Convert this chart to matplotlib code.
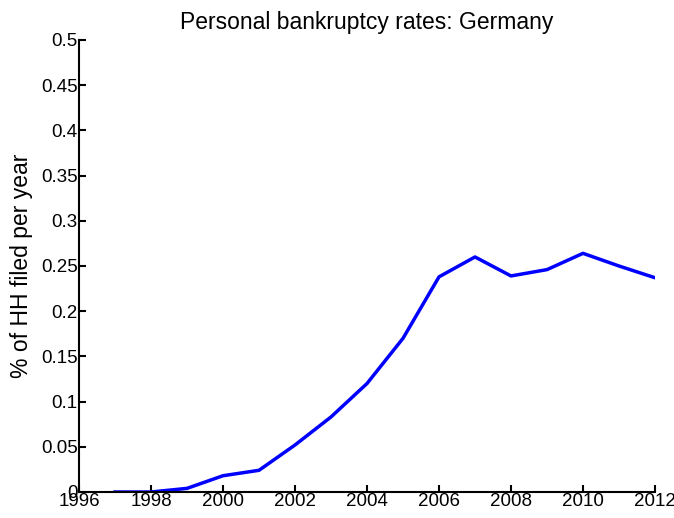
import matplotlib
matplotlib.use('Agg')
import matplotlib.pyplot as plt

plt.rcParams['font.family'] = ['Liberation Sans', 'DejaVu Sans']

years = [1997, 1998, 1999, 2000, 2001, 2002, 2003, 2004, 2005, 2006, 2007, 2008, 2009, 2010, 2011, 2012]
rates = [0.0, 0.0, 0.004, 0.018, 0.024, 0.052, 0.083, 0.12, 0.17, 0.238, 0.26, 0.239, 0.246, 0.264, 0.25, 0.237]
yticks = [0, 0.05, 0.1, 0.15, 0.2, 0.25, 0.3, 0.35, 0.4, 0.45, 0.5]
ylabels = ['0', '0.05', '0.1', '0.15', '0.2', '0.25', '0.3', '0.35', '0.4', '0.45', '0.5']
xticks = list(range(1996, 2013, 2))

fig = plt.figure(figsize=[6.74, 5.18], dpi=100)
ax = fig.add_axes([79/674, 1 - 492/518, (655-79)/674, (492-40)/518])
ax.plot(years, rates, color='#0000ff', linewidth=2.5)
ax.set_xlim(1996, 2012)
ax.set_ylim(0, 0.5)
ax.set_xticks(xticks)
ax.set_yticks(yticks)
ax.set_yticklabels(ylabels)
ax.spines['top'].set_visible(False)
ax.spines['right'].set_visible(False)
ax.spines['left'].set_linewidth(1.5)
ax.spines['bottom'].set_linewidth(1.5)
ax.tick_params(direction='in', length=5, width=1.5, labelsize=13.5, pad=1)
ax.set_title('Personal bankruptcy rates: Germany', fontsize=16.5, pad=8)
ax.set_ylabel('% of HH filed per year', fontsize=16.5, labelpad=6)
fig.savefig('out.png', dpi=100)
